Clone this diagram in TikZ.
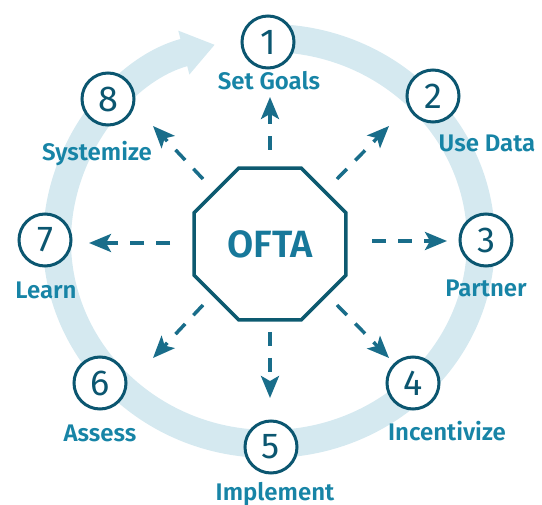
\documentclass[tikz,border=0pt]{standalone}
\usepackage{fontspec}
\setmainfont{Fira Sans}[BoldFont={Fira Sans SemiBold}]
\usetikzlibrary{arrows.meta,shapes.geometric}
\definecolor{ringblue}{HTML}{D5E9F0}
\definecolor{deepteal}{HTML}{0B5670}
\definecolor{labelteal}{HTML}{1784A6}
\definecolor{arrowteal}{HTML}{196D8A}
\definecolor{octteal}{HTML}{0D5A70}
\definecolor{octtext}{HTML}{17789A}
\begin{document}
\begin{tikzpicture}[x=1pt,y=-1pt,
  stage/.style={circle,draw=deepteal,line width=3pt,fill=white,minimum size=52pt,
    inner sep=0pt,text=deepteal,font=\fontsize{36}{36}\selectfont},
  stagelabel/.style={anchor=base,text=labelteal,inner sep=0pt,
    font=\bfseries\fontsize{24}{24}\selectfont},
  flow/.style={draw=arrowteal,line width=3.5pt,dash pattern=on 14pt off 12pt,
    -{Stealth[length=22pt,width=18pt,inset=5pt]}},
  hub/.style={regular polygon,regular polygon sides=8,draw=octteal,line width=3.5pt,
    fill=white,minimum size=164pt,inner sep=0pt,text=octtext,
    font=\bfseries\fontsize{38}{38}\selectfont}]
\useasboundingbox (0,0) rectangle (542,505);

% cycle ring with its arrowhead
\draw[ringblue,line width=28pt,-{Triangle[width=43pt,length=32pt]}]
  (269,241) ++(-88:212 and 203)
  arc[start angle=-88,end angle=255.2,x radius=212,y radius=203];

% central hub
\node[hub] (oct) at (270,244) {OFTA};

% numbered stages
\node[stage] (c1) at (268,42)  {1};
\node[stage] (c2) at (433,96)  {2};
\node[stage] (c3) at (486,240) {3};
\node[stage] (c4) at (413,383) {4};
\node[stage] (c5) at (271,447) {5};
\node[stage] (c6) at (100,383) {6};
\node[stage] (c7) at (45,240)  {7};
\node[stage] (c8) at (108,99)  {8};

% stage names
\node[stagelabel] (l1) at (269,90)  {Set Goals};
\node[stagelabel] (l2) at (487,152) {Use Data};
\node[stagelabel] (l3) at (486,297) {Partner};
\node[stagelabel] (l4) at (447,441) {Incentivize};
\node[stagelabel] (l5) at (275,501) {Implement};
\node[stagelabel] (l6) at (100,442) {Assess};
\node[stagelabel] (l7) at (46,299)  {Learn};
\node[stagelabel] (l8) at (97,161)  {Systemize};

% ends of the dashed spokes
\coordinate (s1) at (270,150); \coordinate (e1) at (270,97);
\coordinate (s2) at (337,179); \coordinate (e2) at (389,126);
\coordinate (s3) at (372,241); \coordinate (e3) at (447,241);
\coordinate (s4) at (337,305); \coordinate (e4) at (389,358);
\coordinate (s5) at (270,332); \coordinate (e5) at (270,398);
\coordinate (s6) at (203,305); \coordinate (e6) at (153,358);
\coordinate (s7) at (170,243); \coordinate (e7) at (89,243);
\coordinate (s8) at (203,179); \coordinate (e8) at (153,126);

\foreach \k in {1,...,8} {
  \draw[flow] (s\k) -- (e\k);
}
\end{tikzpicture}
\end{document}
